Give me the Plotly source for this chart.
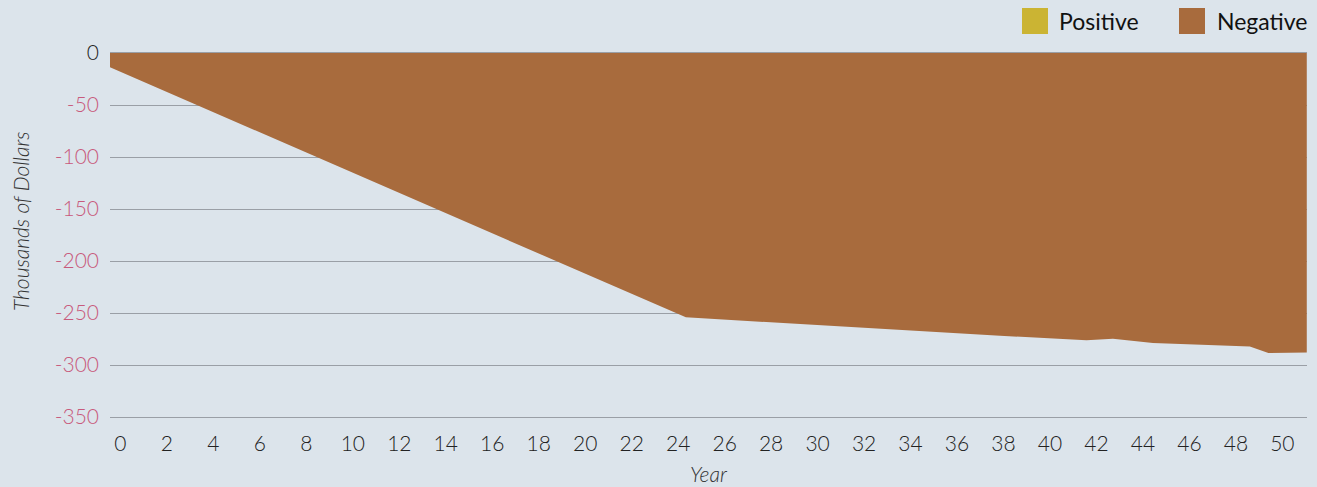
import plotly.graph_objects as go

# Cumulative balance (thousands of dollars) by year
years = [-0.45, 24.33, 37.85, 41.57, 42.71, 44.43, 48.6, 49.4, 51.05]
balance = [-13.8, -254.2, -271.8, -276.3, -274.7, -278.8, -282.1, -288.5, -287.9]

y_ticks = [0, -50, -100, -150, -200, -250, -300, -350]
x_ticks = list(range(0, 52, 2))

legend_labels = ["Positive", "Negative"]
legend_colors = ["#CBB433", "#A86B3D"]

BG = "#DCE4EB"
GRID = "#9A9FA6"
PINK = "#C85A7C"
DARK = "#222222"
FONT = "Lato, 'Open Sans', sans-serif"

fig = go.Figure()
fig.add_trace(go.Scatter(
    x=years, y=balance,
    mode="lines",
    line=dict(width=0, color=legend_colors[1]),
    fill="tozeroy",
    fillcolor=legend_colors[1],
    hoverinfo="skip",
    showlegend=False,
))

y_text = [
    f"<span style='color:{DARK}'>{v}</span>" if v == 0 else str(v)
    for v in y_ticks
]

W, H = 1317, 487
L, R, T, B = 110, 10, 53, 70
pw, ph = W - L - R, H - T - B

fig.update_layout(
    width=W, height=H,
    margin=dict(l=L, r=R, t=T, b=B, pad=0),
    paper_bgcolor=BG,
    plot_bgcolor=BG,
    font=dict(family=FONT, color=DARK),
    showlegend=False,
    xaxis=dict(
        range=[-0.45, 51.06],
        tickmode="array",
        tickvals=x_ticks,
        ticktext=[str(v) for v in x_ticks],
        tickfont=dict(size=21, color=DARK, family=FONT, weight=300),
        ticks="",
        ticklabelstandoff=8,
        showgrid=False,
        zeroline=False,
        showline=True,
        mirror=True,
        linecolor=GRID,
        linewidth=1,
    ),
    yaxis=dict(
        range=[-350, 0],
        tickmode="array",
        tickvals=y_ticks,
        ticktext=y_text,
        tickfont=dict(size=21, color=PINK, family=FONT, weight=300),
        ticks="",
        ticklabelstandoff=10,
        showgrid=True,
        gridcolor=GRID,
        gridwidth=1,
        zeroline=False,
        showline=False,
    ),
)

# Axis titles
fig.add_annotation(
    text="<i>Year</i>", xref="paper", yref="paper",
    x=0.5, y=(H - 474 - B) / ph, xanchor="center", yanchor="middle",
    showarrow=False, font=dict(size=21, color="#333333", family=FONT, weight=300),
)
fig.add_annotation(
    text="<i>Thousands of Dollars</i>", xref="paper", yref="paper",
    x=(20 - L) / pw, y=(H - B - 222) / ph, xanchor="center", yanchor="middle",
    textangle=-90, showarrow=False,
    font=dict(size=21, color="#333333", family=FONT, weight=300),
)

# Legend: colour swatches with labels, top right
swatch_left = [1022, 1179]
text_left = [1057, 1215]
for lbl, col, sx, tx in zip(legend_labels, legend_colors, swatch_left, text_left):
    fig.add_shape(
        type="rect", xref="paper", yref="paper",
        x0=(sx - L) / pw, x1=(sx + 26 - L) / pw,
        y0=(H - B - 34) / ph, y1=(H - B - 8) / ph,
        fillcolor=col, line=dict(width=0),
    )
    fig.add_annotation(
        text=lbl, xref="paper", yref="paper",
        x=(tx - L) / pw, y=(H - B - 21) / ph,
        xanchor="left", yanchor="middle", showarrow=False,
        font=dict(size=23, color="#111111", family=FONT),
    )

fig.write_html("out.html")
